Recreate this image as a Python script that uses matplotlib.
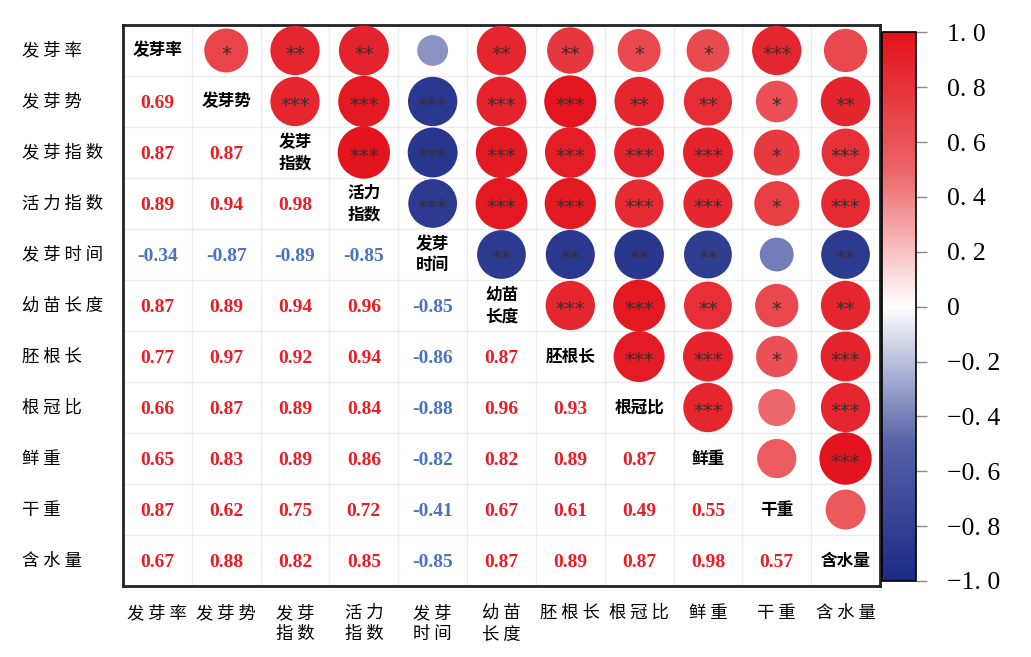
import numpy as np
import matplotlib
matplotlib.use("Agg")
import matplotlib.pyplot as plt
from matplotlib.colors import LinearSegmentedColormap

plt.rcParams['font.family'] = ['Noto Sans CJK SC', 'DejaVu Sans']

# variable names
labels = ["发芽率", "发芽势", "发芽指数", "活力指数", "发芽时间", "幼苗长度",
          "胚根长", "根冠比", "鲜重", "干重", "含水量"]
diag_labels = ["发芽率", "发芽势", "发芽\n指数", "活力\n指数", "发芽\n时间", "幼苗\n长度",
               "胚根长", "根冠比", "鲜重", "干重", "含水量"]
x_labels = ["发 芽 率", "发 芽 势", "发 芽\n指 数", "活 力\n指 数", "发 芽\n时 间", "幼 苗\n长 度",
            "胚 根 长", "根 冠 比", "鲜 重", "干 重", "含 水 量"]

# lower triangle correlations, row by row
lower = [
    [],
    [0.69],
    [0.87, 0.87],
    [0.89, 0.94, 0.98],
    [-0.34, -0.87, -0.89, -0.85],
    [0.87, 0.89, 0.94, 0.96, -0.85],
    [0.77, 0.97, 0.92, 0.94, -0.86, 0.87],
    [0.66, 0.87, 0.89, 0.84, -0.88, 0.96, 0.93],
    [0.65, 0.83, 0.89, 0.86, -0.82, 0.82, 0.89, 0.87],
    [0.87, 0.62, 0.75, 0.72, -0.41, 0.67, 0.61, 0.49, 0.55],
    [0.67, 0.88, 0.82, 0.85, -0.85, 0.87, 0.89, 0.87, 0.98, 0.57],
]

# significance marks for upper triangle (row i, columns i+1..10)
stars = [
    ["*", "**", "**", "", "**", "**", "*", "*", "***", ""],
    ["***", "***", "***", "***", "***", "**", "**", "*", "**"],
    ["***", "***", "***", "***", "***", "***", "*", "***"],
    ["***", "***", "***", "***", "***", "*", "***"],
    ["**", "**", "**", "**", "", "**"],
    ["***", "***", "**", "*", "**"],
    ["***", "***", "*", "***"],
    ["***", "", "***"],
    ["", "***"],
    [""],
]

cbar_ticks = [1.0, 0.8, 0.6, 0.4, 0.2, 0.0, -0.2, -0.4, -0.6, -0.8, -1.0]

n = len(labels)
r = np.eye(n)
for i in range(n):
    for j, v in enumerate(lower[i]):
        r[i, j] = v
        r[j, i] = v

cmap = LinearSegmentedColormap.from_list(
    "corr", ["#1b2a86", "#5561a8", "#ffffff", "#ec6468", "#e3111b"])

fig = plt.figure(figsize=(10.31, 6.57), dpi=100)
ax = fig.add_axes([0.1193, 0.108, 0.7342, 0.854])

# upper triangle circles
ui, uj = np.triu_indices(n, k=1)
vals = r[ui, uj]
sc = ax.scatter(uj, ui, s=1450 * np.abs(vals), c=vals, cmap=cmap, vmin=-1, vmax=1,
                edgecolors='none', zorder=3)

for i in range(n):
    for j in range(i + 1, n):
        s = stars[i][j - i - 1]
        if s:
            ax.text(j, i + 0.07, s, ha='center', va='center', fontsize=14,
                    color='#3a2e30', family='DejaVu Sans', zorder=4)

# lower triangle numbers
for i in range(n):
    for j, v in enumerate(lower[i]):
        col = '#ec1c24' if v > 0 else '#4a72c0'
        ax.text(j, i + 0.03, f"{v:.2f}", ha='center', va='center', fontsize=14,
                color=col, family='Liberation Serif', fontweight='bold', zorder=4)

# diagonal labels
for i in range(n):
    ax.text(i, i, diag_labels[i], ha='center', va='center', fontsize=12,
            fontweight='bold', color='black', linespacing=1.25, zorder=4)

ax.set_xlim(-0.5, n - 0.5)
ax.set_ylim(n - 0.5, -0.5)
ax.set_xticks(np.arange(n) - 0.5, minor=True)
ax.set_yticks(np.arange(n) - 0.5, minor=True)
ax.grid(which='minor', color='#ececec', linewidth=1)
ax.tick_params(which='both', length=0)
ax.set_xticks(np.arange(n))
ax.set_xticklabels(x_labels, fontsize=12.5, linespacing=1.2, va='top')
ax.tick_params(axis='x', pad=13)
ax.set_yticks(np.arange(n))
ax.set_yticklabels([])
for i, lab in enumerate(labels):
    ax.text(-0.133, i, " ".join(lab), transform=ax.get_yaxis_transform(),
            ha='left', va='center', fontsize=12.5)
for sp in ax.spines.values():
    sp.set_linewidth(2)
    sp.set_color('#222222')

cax = fig.add_axes([0.8555, 0.1157, 0.033, 0.835])
cb = fig.colorbar(sc, cax=cax)
cb.set_ticks(cbar_ticks)
tl = []
for t in cbar_ticks:
    if t == 0:
        tl.append("0")
    else:
        tl.append(f"{t:.1f}".replace(".", ". ").replace("-", "\u2212"))
cb.set_ticklabels(tl)
cb.ax.tick_params(length=8, width=1, color='#888888', pad=14, labelsize=18.5)
for lab in cb.ax.get_yticklabels():
    lab.set_family('Liberation Serif')
cb.outline.set_linewidth(1.2)

fig.savefig("out.png", dpi=100)
